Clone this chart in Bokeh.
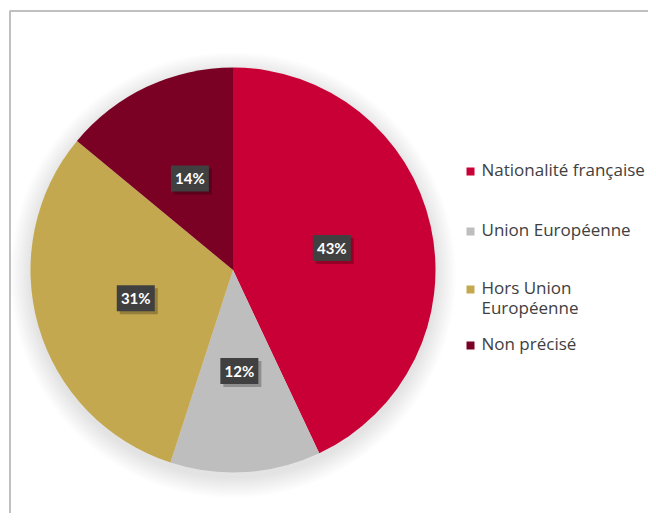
import math
from bokeh.plotting import figure
from bokeh.models import Range1d, ColumnDataSource
from bokeh.core.properties import value
from bokeh.embed import file_html
from bokeh.resources import INLINE

# ---- data ----
categories = ["Nationalité française", "Union Européenne", "Hors Union\nEuropéenne", "Non précisé"]
shares = [43, 12, 31, 14]
colors = ["#C90035", "#BEBEBE", "#C4A84F", "#7A0024"]
pct_labels = ["43%", "12%", "31%", "14%"]

# ---- figure: 1 data unit = 1 px; x = image x, y = 521 - image y ----
W, H = 648, 513
p = figure(width=W, height=H, output_backend="svg", toolbar_location=None,
           x_range=Range1d(0, 648), y_range=Range1d(8, 521),
           x_axis_type=None, y_axis_type=None, min_border=0)
p.grid.visible = False
p.outline_line_color = None
p.background_fill_color = "white"
p.border_fill_color = "white"

def Y(img_y):
    return 521 - img_y

# frame border (top and left visible)
p.line([9.5, 9.5], [Y(10), Y(530)], line_color="#C0C0C0", line_width=2)
p.line([9.5, 660], [Y(10.5), Y(10.5)], line_color="#C0C0C0", line_width=2)

cx, cy, R = 232.5, Y(269.5), 202.5

# soft shadow
for i in range(14):
    p.circle(x=cx, y=cy - 5, radius=R + 1 + i * 1.5, fill_color="black",
             fill_alpha=0.009, line_color=None)

# wedges
total = sum(shares)
starts, ends, mids = [], [], []
cum = 0.0
for s in shares:
    a0 = cum / total
    cum += s
    a1 = cum / total
    starts.append(math.pi / 2 - 2 * math.pi * a0)
    ends.append(math.pi / 2 - 2 * math.pi * a1)
    mids.append(math.pi / 2 - 2 * math.pi * (a0 + a1) / 2)

src = ColumnDataSource(dict(start=starts, end=ends, color=colors))
p.wedge(x=cx, y=cy, radius=R, start_angle="start", end_angle="end",
        direction="clock", fill_color="color", line_color=None, source=src)

# data labels
lx = [cx + 0.5 * R * math.cos(m) for m in mids]
ly = [cy + 0.5 * R * math.sin(m) for m in mids]
p.rect(x=[x + 3 for x in lx], y=[y - 3 for y in ly], width=38, height=26,
       fill_color="black", fill_alpha=0.25, line_color=None)
p.rect(x=lx, y=ly, width=38, height=26, fill_color="#404040", line_color=None)
p.text(x=lx, y=ly, text=pct_labels, text_color="white", text_font=value("Lato"),
       text_font_style="bold", text_font_size="15px", text_align="center",
       text_baseline="middle")

# legend
leg_first_line_y = [170, 230, 288, 344]
sq_x = 470
p.rect(x=[sq_x] * 4, y=[Y(v + 1) for v in leg_first_line_y], width=8, height=8,
       fill_color=colors, line_color=None)
p.text(x=[481] * 4, y=[Y(v - 13) for v in leg_first_line_y], text=categories,
       text_color="#404040", text_font=value("Open Sans"), text_font_size="17px",
       text_align="left", text_baseline="top", text_line_height=0.88)

open("out.html", "w").write(file_html(p, INLINE))
